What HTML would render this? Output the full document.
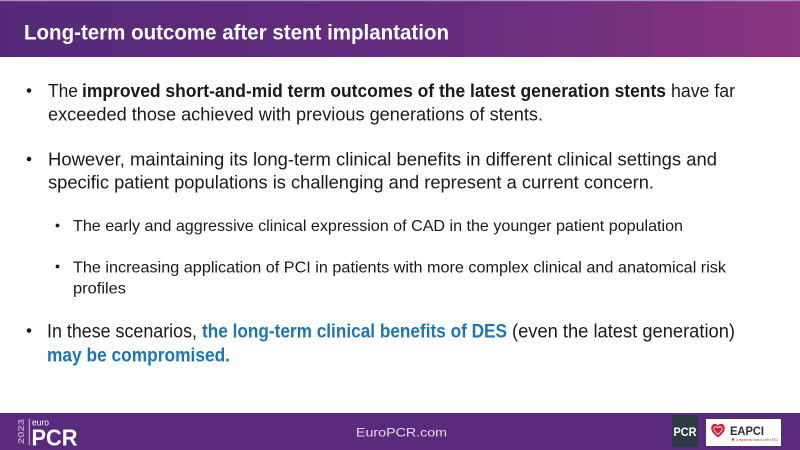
<!DOCTYPE html>
<html>
<head>
<meta charset="utf-8">
<style>
  html, body { margin: 0; padding: 0; background: #ffffff; }
  body { width: 800px; height: 450px; overflow: hidden; }
  svg { display: block; }
  text { font-family: "Liberation Sans", "DejaVu Sans", sans-serif; }
</style>
</head>
<body>
<svg width="800" height="450" viewBox="0 0 800 450" xmlns="http://www.w3.org/2000/svg">
  <defs>
    <linearGradient id="hdr" x1="0" y1="0" x2="1" y2="0">
      <stop offset="0" stop-color="#55297a"/>
      <stop offset="0.55" stop-color="#662c7e"/>
      <stop offset="1" stop-color="#8a3483"/>
    </linearGradient>
  </defs>

  <!-- background -->
  <rect x="0" y="0" width="800" height="450" fill="#ffffff"/>

  <!-- header -->
  <rect x="0" y="0" width="800" height="57" fill="url(#hdr)"/>
  <rect x="0" y="0" width="800" height="1.2" fill="#a68ebf"/>
  <text x="24" y="39.5" font-size="21" font-weight="bold" fill="#ffffff" textLength="425" lengthAdjust="spacingAndGlyphs">Long-term outcome after stent implantation</text>

  <!-- bullet 1 -->
  <circle cx="29" cy="90.5" r="2.3" fill="#1a1a1a"/>
  <text x="48" y="97" font-size="18" fill="#1a1a1a" textLength="30" lengthAdjust="spacingAndGlyphs">The</text>
  <text x="82" y="97" font-size="18" font-weight="bold" fill="#1a1a1a" textLength="584" lengthAdjust="spacingAndGlyphs">improved short-and-mid term outcomes of the latest generation stents</text>
  <text x="671" y="97" font-size="18" fill="#1a1a1a" textLength="64" lengthAdjust="spacingAndGlyphs">have far</text>
  <text x="48" y="120.5" font-size="18" fill="#1a1a1a" textLength="495" lengthAdjust="spacingAndGlyphs">exceeded those achieved with previous generations of stents.</text>

  <!-- bullet 2 -->
  <circle cx="29" cy="159" r="2.3" fill="#1a1a1a"/>
  <text x="48" y="165.5" font-size="18" fill="#1a1a1a" textLength="669" lengthAdjust="spacingAndGlyphs">However, maintaining its long-term clinical benefits in different clinical settings and</text>
  <text x="48" y="188.3" font-size="18" fill="#1a1a1a" textLength="606" lengthAdjust="spacingAndGlyphs">specific patient populations is challenging and represent a current concern.</text>

  <!-- sub bullet 1 -->
  <circle cx="57.5" cy="225.5" r="1.9" fill="#1a1a1a"/>
  <text x="73" y="231" font-size="16" fill="#1a1a1a" textLength="610" lengthAdjust="spacingAndGlyphs">The early and aggressive clinical expression of CAD in the younger patient population</text>

  <!-- sub bullet 2 -->
  <circle cx="57.5" cy="266.5" r="1.9" fill="#1a1a1a"/>
  <text x="73" y="272.3" font-size="16" fill="#1a1a1a" textLength="653" lengthAdjust="spacingAndGlyphs">The increasing application of PCI in patients with more complex clinical and anatomical risk</text>
  <text x="73" y="293.5" font-size="16" fill="#1a1a1a" textLength="53" lengthAdjust="spacingAndGlyphs">profiles</text>

  <!-- bullet 3 -->
  <circle cx="29" cy="330.5" r="2.3" fill="#1a1a1a"/>
  <text x="47" y="337.7" font-size="19" fill="#1a1a1a" textLength="150" lengthAdjust="spacingAndGlyphs">In these scenarios,</text>
  <text x="202" y="337.7" font-size="19" font-weight="bold" fill="#1f74b5" textLength="305" lengthAdjust="spacingAndGlyphs">the long-term clinical benefits of DES</text>
  <text x="512" y="337.7" font-size="19" fill="#1a1a1a" textLength="223" lengthAdjust="spacingAndGlyphs">(even the latest generation)</text>
  <text x="47" y="361.5" font-size="19" font-weight="bold" fill="#1f74b5" textLength="183" lengthAdjust="spacingAndGlyphs">may be compromised.</text>

  <!-- footer -->
  <rect x="0" y="413" width="800" height="37" fill="#5a2a7d"/>

  <!-- left logo -->
  <text x="0" y="0" font-size="8.5" font-weight="bold" fill="#b8a3c9" textLength="25" lengthAdjust="spacingAndGlyphs" transform="translate(24 444) rotate(-90)">2023</text>
  <rect x="28.8" y="419" width="0.9" height="26" fill="#d9cfe3"/>
  <text x="32" y="425.5" font-size="9" fill="#ffffff" textLength="17" lengthAdjust="spacingAndGlyphs">euro</text>
  <text x="31.5" y="445.5" font-size="23" font-weight="bold" fill="#ffffff" textLength="46" lengthAdjust="spacingAndGlyphs">PCR</text>

  <!-- center -->
  <text x="356" y="436.5" font-size="11.5" fill="#e6ddee" textLength="91" lengthAdjust="spacingAndGlyphs">EuroPCR.com</text>

  <!-- PCR dark box -->
  <rect x="672" y="415" width="26" height="32" fill="#2e3944"/>
  <text x="673.5" y="436" font-size="12" font-weight="bold" fill="#ffffff" textLength="23" lengthAdjust="spacingAndGlyphs">PCR</text>

  <!-- EAPCI white box -->
  <rect x="706" y="419" width="75" height="27" fill="#ffffff"/>
  <path d="M718 437.5 C 712 433, 710.5 429.5, 711.5 426.5 C 712.5 423.5, 716 423, 718 425.5 C 720 423, 723.5 423.5, 724.5 426.5 C 725.5 429.5, 724 433, 718 437.5 Z" fill="#d0213b"/>
  <path d="M718 434.5 C 714.5 431.5, 713.5 429.5, 714 428 C 714.6 426.4, 716.6 426.2, 718 427.8 C 719.4 426.2, 721.4 426.4, 722 428 C 722.5 429.5, 721.5 431.5, 718 434.5 Z" fill="none" stroke="#ffffff" stroke-width="0.8"/>
  <text x="730" y="435" font-size="11.5" font-weight="bold" fill="#2a2a3a" textLength="34" lengthAdjust="spacingAndGlyphs">EAPCI</text>
  <circle cx="733" cy="439.5" r="1.2" fill="#d0213b"/>
  <text x="736" y="441" font-size="3.5" fill="#c03040" textLength="42" lengthAdjust="spacingAndGlyphs">A registered branch of the ESC</text>
</svg>
</body>
</html>
